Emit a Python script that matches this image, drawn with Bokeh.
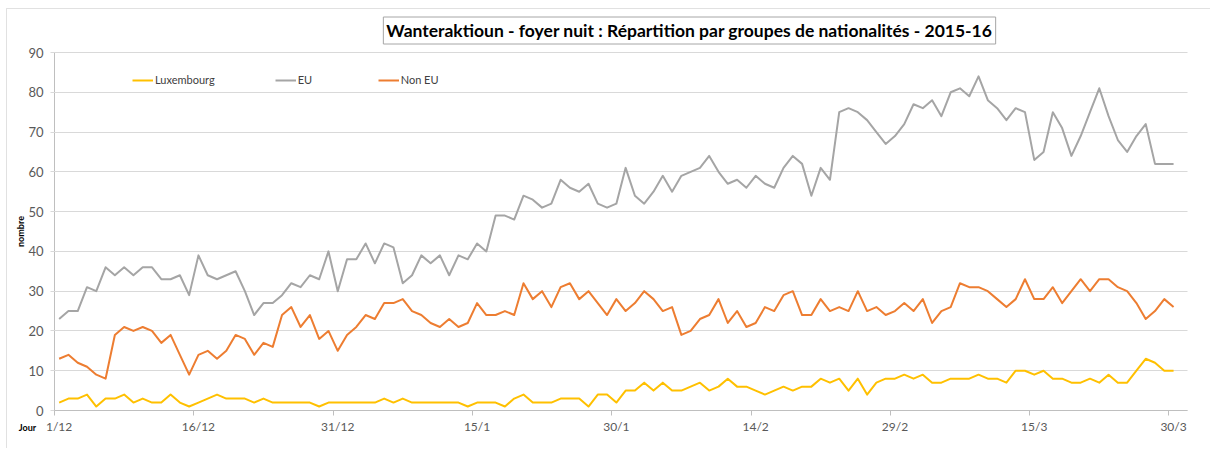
import math
from bokeh.plotting import figure
from bokeh.models import Range1d, FixedTicker, Legend, LegendItem, Label, LinearAxis, BoxAnnotation
from bokeh.embed import file_html
from bokeh.resources import INLINE

# Day index counted from 1/12/2015 (121 days, up to 30/3/2016)
days = list(range(121))

luxembourg = [
    2, 3, 3, 4, 1, 3, 3, 4, 2, 3,
    2, 2, 4, 2, 1, 2, 3, 4, 3, 3,
    3, 2, 3, 2, 2, 2, 2, 2, 1, 2,
    2, 2, 2, 2, 2, 3, 2, 3, 2, 2,
    2, 2, 2, 2, 1, 2, 2, 2, 1, 3,
    4, 2, 2, 2, 3, 3, 3, 1, 4, 4,
    2, 5, 5, 7, 5, 7, 5, 5, 6, 7,
    5, 6, 8, 6, 6, 5, 4, 5, 6, 5,
    6, 6, 8, 7, 8, 5, 8, 4, 7, 8,
    8, 9, 8, 9, 7, 7, 8, 8, 8, 9,
    8, 8, 7, 10, 10, 9, 10, 8, 8, 7,
    7, 8, 7, 9, 7, 7, 10, 13, 12, 10, 10,
]

eu = [
    23, 25, 25, 31, 30, 36, 34, 36, 34, 36,
    36, 33, 33, 34, 29, 39, 34, 33, 34, 35,
    30, 24, 27, 27, 29, 32, 31, 34, 33, 40,
    30, 38, 38, 42, 37, 42, 41, 32, 34, 39,
    37, 39, 34, 39, 38, 42, 40, 49, 49, 48,
    54, 53, 51, 52, 58, 56, 55, 57, 52, 51,
    52, 61, 54, 52, 55, 59, 55, 59, 60, 61,
    64, 60, 57, 58, 56, 59, 57, 56, 61, 64,
    62, 54, 61, 58, 75, 76, 75, 73, 70, 67,
    69, 72, 77, 76, 78, 74, 80, 81, 79, 84,
    78, 76, 73, 76, 75, 63, 65, 75, 71, 64,
    69, 75, 81, 74, 68, 65, 69, 72, 62, 62, 62,
]

non_eu = [
    13, 14, 12, 11, 9, 8, 19, 21, 20, 21,
    20, 17, 19, 14, 9, 14, 15, 13, 15, 19,
    18, 14, 17, 16, 24, 26, 21, 24, 18, 20,
    15, 19, 21, 24, 23, 27, 27, 28, 25, 24,
    22, 21, 23, 21, 22, 27, 24, 24, 25, 24,
    32, 28, 30, 26, 31, 32, 28, 30, 27, 24,
    28, 25, 27, 30, 28, 25, 26, 19, 20, 23,
    24, 28, 22, 25, 21, 22, 26, 25, 29, 30,
    24, 24, 28, 25, 26, 25, 30, 25, 26, 24,
    25, 27, 25, 28, 22, 25, 26, 32, 31, 31,
    30, 28, 26, 28, 33, 28, 28, 31, 27, 30,
    33, 30, 33, 33, 31, 30, 27, 23, 25, 28, 26,
]

tick_days = [0, 15, 30, 45, 60, 75, 90, 105, 120]
tick_labels = ["1/12", "16/12", "31/12", "15/1", "30/1", "14/2", "29/2", "15/3", "30/3"]
y_ticks = [0, 10, 20, 30, 40, 50, 60, 70, 80, 90]

series_names = ["Luxembourg", "EU", "Non EU"]
series_colors = ["#FFC000", "#A5A5A5", "#ED7D31"]

FONT = "Lato"
TXT = "#595959"

# ---- layout (pixels inside the canvas) ----
W, H = 1210, 448
AREA_L, AREA_R, AREA_T, AREA_B = 54, 1187, 52, 410   # plot-area edges in canvas px
CHART_L, CHART_T = 6, 8                               # chart-area border
X0, X1 = -0.5, 121.5
Y0, Y1 = 0, 90
px_x = (AREA_R - AREA_L) / (X1 - X0)
px_y = (AREA_B - AREA_T) / (Y1 - Y0)
x_range = Range1d(X0 - AREA_L / px_x, X1 + (W - AREA_R) / px_x)
y_range = Range1d(Y0 - (H - AREA_B) / px_y, Y1 + AREA_T / px_y)

p = figure(width=W, height=H, output_backend="svg", toolbar_location=None,
           x_range=x_range, y_range=y_range,
           x_axis_location=None, y_axis_location=None,
           min_border=0, min_border_left=0, min_border_right=0,
           min_border_top=0, min_border_bottom=0)
p.outline_line_color = None
p.background_fill_color = "white"
p.border_fill_color = "white"
for g in p.grid:
    g.visible = False

# chart-area frame (its right and bottom edges lie outside the picture)
frame_box = BoxAnnotation(left=X0 - (AREA_L - CHART_L) / px_x, top=Y1 + (AREA_T - CHART_T) / px_y,
                          right=x_range.end + 5, bottom=y_range.start - 5,
                          fill_alpha=0, line_color="#9a9a9a", line_width=1)
p.add_layout(frame_box)

# y axis: inner ticks stretched across the plot area act as horizontal gridlines
yaxis = LinearAxis(fixed_location=X0, bounds=(Y0, Y1), ticker=FixedTicker(ticks=y_ticks),
                   major_tick_in=AREA_R - AREA_L, major_tick_out=4,
                   minor_tick_in=0, minor_tick_out=0,
                   major_tick_line_color="#D9D9D9", axis_line_color="#BFBFBF",
                   major_label_standoff=7, major_label_text_font=FONT,
                   major_label_text_font_size="13px", major_label_text_color=TXT)
yaxis.level = "underlay"
p.add_layout(yaxis, "left")

xaxis = LinearAxis(fixed_location=Y0, bounds=(X0, X1),
                   ticker=FixedTicker(ticks=tick_days, minor_ticks=[d - 0.5 for d in tick_days]),
                   major_label_overrides={d: l for d, l in zip(tick_days, tick_labels)},
                   major_tick_in=0, major_tick_out=0, minor_tick_in=0, minor_tick_out=5,
                   minor_tick_line_color="#BFBFBF", axis_line_color="#BFBFBF",
                   major_label_standoff=3, major_label_text_font=FONT,
                   major_label_text_font_size="12px", major_label_text_color=TXT)
p.add_layout(xaxis, "below")

renderers = []
for vals, name, col in zip([luxembourg, eu, non_eu], series_names, series_colors):
    r = p.line(days, vals, line_color=col, line_width=2, line_join="round")
    renderers.append(r)

legend = Legend(items=[LegendItem(label=n, renderers=[r]) for n, r in zip(series_names, renderers)],
                orientation="horizontal", location=(132, H - 86),
                border_line_color=None, background_fill_alpha=0,
                glyph_width=21, glyph_height=10, label_standoff=2, spacing=60,
                padding=0, margin=0, label_text_font=FONT,
                label_text_font_size="11px", label_text_color="#404040")
p.add_layout(legend)

title = Label(x=X0, y=Y1, x_offset=635, y_offset=22,
              text="Wanteraktioun - foyer nuit : Répartition par groupes de nationalités - 2015-16",
              text_align="center", text_baseline="middle", text_font=FONT,
              text_font_size="17.5px", text_font_style="bold", text_color="#000000",
              border_line_color="#A6A6A6", background_fill_color="white", padding=3)
p.add_layout(title)

nombre = Label(x=X0, y=(Y0 + Y1) / 2, x_offset=-34, angle=math.pi / 2, text="nombre",
               text_align="center", text_baseline="middle", text_font=FONT,
               text_font_size="9px", text_font_style="bold", text_color="#000000")
p.add_layout(nombre)

jour = Label(x=X0, y=Y0, x_offset=-27, y_offset=-17, text="Jour",
             text_align="center", text_baseline="middle", text_font=FONT,
             text_font_size="9px", text_font_style="bold", text_color="#000000")
p.add_layout(jour)

open("out.html", "w").write(file_html(p, INLINE))
